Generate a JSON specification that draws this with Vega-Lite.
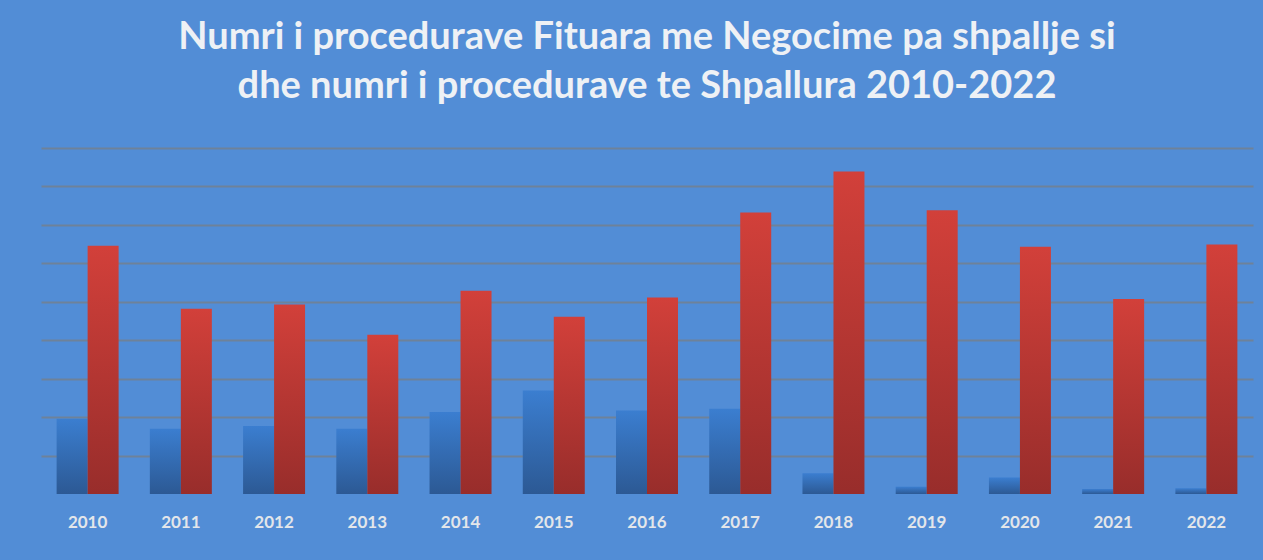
{
  "$schema": "https://vega.github.io/schema/vega-lite/v6.json",
  "width": 1212,
  "height": 346,
  "autosize": "none",
  "padding": {"left": 41, "top": 148, "right": 10, "bottom": 66},
  "background": "#528DD6",
  "title": {
    "text": ["Numri i procedurave Fituara me Negocime pa shpallje si", "dhe numri i procedurave te Shpallura 2010-2022"],
    "font": "Lato",
    "fontWeight": "bold",
    "fontSize": 38,
    "color": "#EEF1F5",
    "anchor": "middle",
    "lineHeight": 49,
    "baseline": "bottom",
    "offset": 4
  },
  "config": {"view": {"stroke": null}},
  "data": {
    "values": [
      {"year": "2010", "series": "Negocime pa shpallje", "value": 196},
      {"year": "2010", "series": "Shpallura", "value": 646},
      {"year": "2011", "series": "Negocime pa shpallje", "value": 170},
      {"year": "2011", "series": "Shpallura", "value": 482},
      {"year": "2012", "series": "Negocime pa shpallje", "value": 177},
      {"year": "2012", "series": "Shpallura", "value": 493},
      {"year": "2013", "series": "Negocime pa shpallje", "value": 170},
      {"year": "2013", "series": "Shpallura", "value": 414},
      {"year": "2014", "series": "Negocime pa shpallje", "value": 213},
      {"year": "2014", "series": "Shpallura", "value": 529},
      {"year": "2015", "series": "Negocime pa shpallje", "value": 269},
      {"year": "2015", "series": "Shpallura", "value": 461},
      {"year": "2016", "series": "Negocime pa shpallje", "value": 217},
      {"year": "2016", "series": "Shpallura", "value": 511},
      {"year": "2017", "series": "Negocime pa shpallje", "value": 222},
      {"year": "2017", "series": "Shpallura", "value": 732},
      {"year": "2018", "series": "Negocime pa shpallje", "value": 54},
      {"year": "2018", "series": "Shpallura", "value": 839},
      {"year": "2019", "series": "Negocime pa shpallje", "value": 19},
      {"year": "2019", "series": "Shpallura", "value": 738},
      {"year": "2020", "series": "Negocime pa shpallje", "value": 43},
      {"year": "2020", "series": "Shpallura", "value": 643},
      {"year": "2021", "series": "Negocime pa shpallje", "value": 13},
      {"year": "2021", "series": "Shpallura", "value": 507},
      {"year": "2022", "series": "Negocime pa shpallje", "value": 15},
      {"year": "2022", "series": "Shpallura", "value": 649}
    ]
  },
  "encoding": {
    "x": {
      "field": "year",
      "type": "ordinal",
      "scale": {"paddingInner": 0.335, "paddingOuter": 0.1675},
      "axis": {
        "title": null,
        "labelAngle": 0,
        "ticks": false,
        "domain": false,
        "grid": false,
        "labelFont": "Lato",
        "labelFontWeight": "bold",
        "labelFontSize": 17,
        "labelColor": "#E3E6EA",
        "labelPadding": 20
      }
    },
    "xOffset": {
      "field": "series",
      "type": "nominal",
      "scale": {"domain": ["Negocime pa shpallje", "Shpallura"], "paddingInner": 0, "paddingOuter": 0}
    },
    "y": {
      "field": "value",
      "type": "quantitative",
      "scale": {"domain": [0, 900], "nice": false},
      "axis": {
        "title": null,
        "labels": false,
        "ticks": false,
        "domain": false,
        "grid": true,
        "values": [100, 200, 300, 400, 500, 600, 700, 800, 900],
        "gridColor": "#6E8299",
        "gridWidth": 2
      }
    }
  },
  "layer": [
    {
      "transform": [{"filter": "datum.series === 'Negocime pa shpallje'"}],
      "mark": {
        "type": "bar",
        "fill": {"gradient": "linear", "x1": 0, "y1": 0, "x2": 0, "y2": 1, "stops": [{"offset": 0, "color": "#3B7ED0"}, {"offset": 1, "color": "#2C5994"}]}
      }
    },
    {
      "transform": [{"filter": "datum.series === 'Shpallura'"}],
      "mark": {
        "type": "bar",
        "fill": {"gradient": "linear", "x1": 0, "y1": 0, "x2": 0, "y2": 1, "stops": [{"offset": 0, "color": "#D2403A"}, {"offset": 1, "color": "#982D2B"}]}
      }
    }
  ]
}
